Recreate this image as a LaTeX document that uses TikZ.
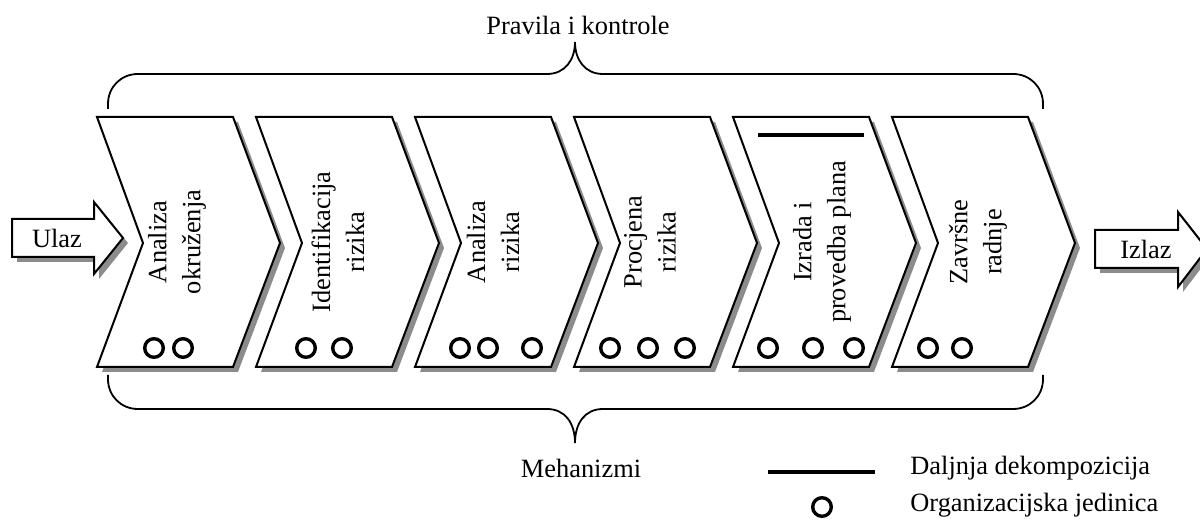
\documentclass[tikz,border=0pt]{standalone}
\usepackage{fontspec}
\setmainfont{Liberation Serif}
\usepackage{tikz}
\usetikzlibrary{positioning}

\begin{document}
\begin{tikzpicture}[x=0.5pt,y=-0.5pt,
  every node/.style={font=\fontsize{13.2}{17}\selectfont,inner sep=0pt},
  dropshade/.style={fill=black!45},
  stepbody/.style={draw=black,fill=white,line width=1pt},
  stepname/.style={rotate=90,align=center},
  unitring/.style={draw=black,line width=1.7pt},
  decompline/.style={line width=2pt},
  bracepath/.style={line width=0.9pt}]
\useasboundingbox (0,0) rectangle (1200,522);
% Drawing braces
% Top: Pravila i kontrole
\draw[bracepath] (108,109) -- (108,104) .. controls (108,87) and (121,74) .. (138,74) -- (547,74)
  .. controls (565,74) and (575,60) .. (575,42) .. controls (575,60) and (585,74) .. (603,74)
  -- (1013,74) .. controls (1030,74) and (1043,87) .. (1043,104) -- (1043,109);
\node[anchor=base] (rules) at (578,35) {Pravila i kontrole};
% Bottom: Mehanizmi
\draw[bracepath] (108,375) -- (108,379) .. controls (108,396) and (121,409) .. (138,409) -- (547,409)
  .. controls (565,409) and (575,423) .. (575,443) .. controls (575,423) and (585,409) .. (603,409)
  -- (1013,409) .. controls (1030,409) and (1043,396) .. (1043,379) -- (1043,375);
\node[anchor=base] (mech) at (581,478) {Mehanizmi};
% Done with braces; drawing input and output
\fill[dropshade] (17,224) -- (99,224) -- (99,207) -- (128,243) -- (99,279) -- (99,262) -- (17,262) -- cycle;
\draw[stepbody] (12,219) -- (94,219) -- (94,202) -- (123,238) -- (94,274) -- (94,257) -- (12,257) -- cycle;
\node[anchor=base] (input) at (57,248) {Ulaz};
\fill[dropshade] (1100,235) -- (1183,235) -- (1183,217) -- (1212,254) -- (1183,292) -- (1183,273) -- (1100,273) -- cycle;
\draw[stepbody] (1095,230) -- (1178,230) -- (1178,212) -- (1207,249) -- (1178,287) -- (1178,268) -- (1095,268) -- cycle;
\node[anchor=base] (output) at (1146,259) {Izlaz};
% Drawing process steps
\foreach \px/\nm in {97/a,256/b,415/c,574/d,733/e,892/f}{
  \fill[dropshade] (\px+5,122) -- ++(136,0) -- ++(47,126) -- ++(-47,124) -- ++(-136,0) -- ++(46,-124) -- cycle;
  \draw[stepbody] (\px,117) coordinate (\nm) -- ++(136,0) -- ++(47,126) -- ++(-47,124) -- ++(-136,0) -- ++(46,-124) -- cycle;
}
\node[stepname] (s1) at (177,242) {Analiza\\okruženja};
\node[stepname] (s2) at (338,242) {Identifikacija\\rizika};
\node[stepname] (s3) at (493,242) {Analiza\\rizika};
\node[stepname] (s4) at (650,242) {Procjena\\rizika};
\node[stepname] (s5) at (822,242) {Izrada i\\provedba plana};
\node[stepname] (s6) at (978,242) {Završne\\radnje};
% Organisational units and decomposition mark
\foreach \cx in {154,183,306,342,460,488,532,610,648,685,768,813,854,928,962}
  \draw[unitring] (\cx,348) circle[radius=9.3];
\draw[decompline] (758,135) -- (864,135);
% Legend
\draw[decompline] (768,472) -- (875,472);
\node[anchor=base west] (decomp) at (910,475) {Daljnja dekompozicija};
\draw[unitring] (822,507) circle[radius=9.3];
\node[anchor=base west] (orgunit) at (910,512) {Organizacijska jedinica};
\end{tikzpicture}
\end{document}
